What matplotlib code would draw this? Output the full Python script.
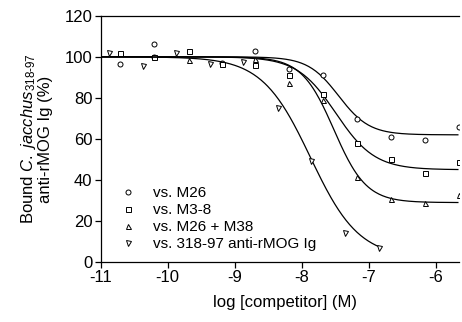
import numpy as np
import matplotlib.pyplot as plt

plt.rcParams["font.family"] = ["Liberation Sans", "DejaVu Sans"]
plt.rcParams["mathtext.fontset"] = "custom"
plt.rcParams["mathtext.rm"] = "Liberation Sans"
plt.rcParams["mathtext.it"] = "Liberation Sans:italic"

# datos
x_m26 = [-10.71, -10.20, -10.20, -9.19, -8.70, -8.19, -7.69, -7.18, -6.67, -6.16, -5.66]
y_m26 = [96.6, 106.4, 100.0, 97.0, 103.0, 94.1, 91.0, 69.6, 61.1, 59.5, 66.0]

x_m38 = [-10.71, -10.20, -9.69, -9.19, -8.70, -8.19, -7.69, -7.18, -6.67, -6.16, -5.66]
y_m38 = [101.7, 100.0, 103.0, 96.7, 96.1, 91.2, 81.8, 58.2, 50.2, 43.6, 48.6]

x_combo = [-9.69, -8.70, -8.19, -7.69, -7.18, -6.67, -6.16, -5.66]
y_combo = [98.5, 99.0, 87.1, 79.0, 41.6, 30.7, 28.6, 32.7]

x_318 = [-10.88, -10.37, -9.88, -9.37, -8.87, -8.35, -7.86, -7.35, -6.84]
y_318 = [101.7, 95.3, 102.0, 96.6, 97.7, 75.3, 49.4, 14.3, 6.7]

# parámetros del ajuste sigmoidal: arriba, abajo, logIC50, pendiente, x final
ajustes = {
    "m26": (100, 62, -7.45, 1.9, -5.67),
    "m38": (100, 45, -7.49, 1.5, -5.67),
    "combo": (100, 29, -7.52, 1.8, -5.67),
    "318": (100, 2, -7.87, 1.2, -6.84),
}

etiquetas = ["vs. M26", "vs. M3-8", "vs. M26 + M38", "vs. 318-97 anti-rMOG Ig"]
marcadores = ["o", "s", "^", "v"]


def sigmoide(x, top, bottom, c, h):
    return bottom + (top - bottom) / (1 + 10 ** (h * (x - c)))


fig = plt.figure(figsize=(4.62, 3.22), dpi=100)
ax = fig.add_axes([0.218, 0.186, 0.776, 0.765])

series = [(x_m26, y_m26, "m26"), (x_m38, y_m38, "m38"),
          (x_combo, y_combo, "combo"), (x_318, y_318, "318")]

for (xs, ys, clave), mk, lab in zip(series, marcadores, etiquetas):
    top, bottom, c, h, xfin = ajustes[clave]
    xc = np.linspace(-11, xfin, 300)
    ax.plot(xc, sigmoide(xc, top, bottom, c, h), color="black", lw=0.9)
    ax.plot(xs, ys, linestyle="none", marker=mk, markersize=3.6,
            markerfacecolor="white", markeredgecolor="black",
            markeredgewidth=0.7, label=lab)

ax.set_xlim(-11, -5.65)
ax.set_ylim(0, 120)
ax.set_xticks([-11, -10, -9, -8, -7, -6])
ax.set_xticklabels(["-11", "-10", "-9", "-8", "-7", "-6"])
ax.set_yticks([0, 20, 40, 60, 80, 100, 120])
ax.spines["right"].set_visible(False)
for s in ["left", "bottom", "top"]:
    ax.spines[s].set_linewidth(0.9)
ax.tick_params(direction="out", length=4, width=0.9, labelsize=12, pad=2)

ax.set_xlabel("log [competitor] (M)", fontsize=12, labelpad=7)
ax.xaxis.label.set_x(0.513)
ax.set_ylabel("Bound $\\mathit{C.\\ jacchus}_{\\mathrm{318\\text{-}97}}$\nanti-rMOG Ig (%)",
              fontsize=12, labelpad=8, linespacing=1.0)

ax.legend(loc="lower left", bbox_to_anchor=(0.02, 0.0), frameon=False,
          fontsize=11, handletextpad=1.05, labelspacing=0.2,
          borderaxespad=0.3, handlelength=1.2)

fig.savefig("out.png", dpi=100)
